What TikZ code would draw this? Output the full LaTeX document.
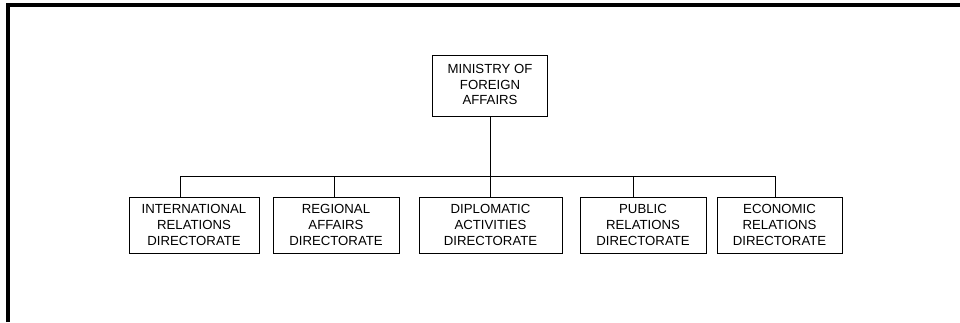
\documentclass[tikz,border=0pt]{standalone}
\usepackage{fontspec}
\setmainfont{Liberation Sans}
\begin{document}
\begin{tikzpicture}[x=1pt,y=-1pt,
  orgbox/.style={draw=black,line width=1pt,align=center,inner sep=0pt,
    font=\fontsize{13.2pt}{15.6pt}\selectfont,minimum height=56pt},
  link/.style={draw=black,line width=1pt}]
\useasboundingbox (0,0) rectangle (960,322);
\draw[line width=4pt] (8,322) -- (8,5) -- (962,5);
\node[orgbox,minimum width=115pt,minimum height=61pt,text depth=2pt] (top) at (490,85.5) {MINISTRY OF\\FOREIGN\\AFFAIRS};
\node[orgbox,minimum width=130pt] (b1) at (194,225) {INTERNATIONAL\\RELATIONS\\DIRECTORATE};
\node[orgbox,minimum width=126pt] (b2) at (336,225) {REGIONAL\\AFFAIRS\\DIRECTORATE};
\node[orgbox,minimum width=143pt] (b3) at (490.5,225) {DIPLOMATIC\\ACTIVITIES\\DIRECTORATE};
\node[orgbox,minimum width=126pt] (b4) at (643,225) {PUBLIC\\RELATIONS\\DIRECTORATE};
\node[orgbox,minimum width=125pt] (b5) at (779.5,225) {ECONOMIC\\RELATIONS\\DIRECTORATE};
\coordinate (j) at (490,176);
\draw[link] (top.south) -- (j);
\draw[link] ([xshift=-14pt]b1.north) |- (j);
\draw[link] ([xshift=-2pt]b2.north) |- (j);
\draw[link] (b3.north -| j) -- (j);
\draw[link] ([xshift=-10pt]b4.north) |- (j);
\draw[link] ([xshift=-4.5pt]b5.north) |- (j);
\end{tikzpicture}
\end{document}
